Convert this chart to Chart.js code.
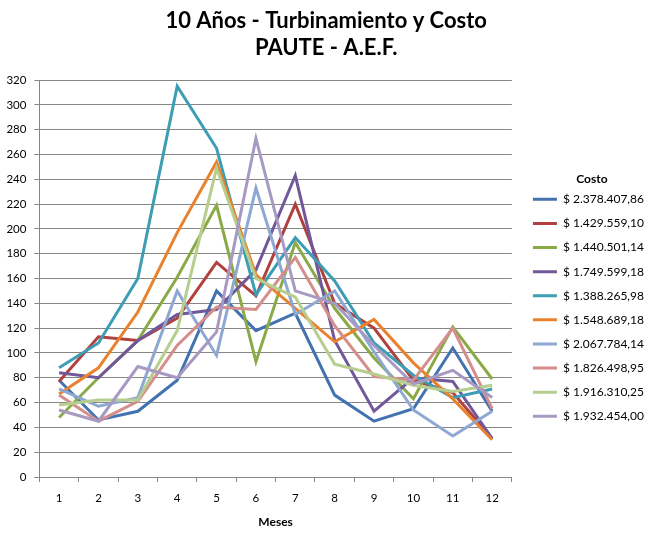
<!DOCTYPE html>
<html>
<head>
<meta charset="utf-8">
<script src="https://cdn.jsdelivr.net/npm/chart.js@4/dist/chart.umd.min.js"></script>
<style>
  html, body { margin: 0; padding: 0; background: #ffffff; }
  canvas { display: block; }
</style>
</head>
<body>
<canvas id="c" width="655" height="538"></canvas>
<script>
const months = ['1','2','3','4','5','6','7','8','9','10','11','12'];
const costLabels = ['$ 2.378.407,86','$ 1.429.559,10','$ 1.440.501,14','$ 1.749.599,18','$ 1.388.265,98','$ 1.548.689,18','$ 2.067.784,14','$ 1.826.498,95','$ 1.916.310,25','$ 1.932.454,00'];
const yTicks = [0,20,40,60,80,100,120,140,160,180,200,220,240,260,280,300,320];

const s1  = [78, 46, 53, 78, 150, 118, 132, 66, 45, 55, 104, 53];
const s2  = [77, 113, 110, 128, 173, 146, 220, 140, 120, 78, 68, 31];
const s3  = [48, 80, 110, 161, 219, 93, 189, 136, 96, 63, 121, 79];
const s4  = [84, 80, 110, 131, 135, 167, 243, 110, 53, 80, 77, 31];
const s5  = [88, 108, 160, 315, 265, 147, 193, 158, 108, 82, 64, 71];
const s6  = [67, 88, 133, 197, 254, 163, 136, 109, 127, 92, 63, 30];
const s7  = [71, 57, 64, 150, 98, 233, 131, 150, 101, 54, 33, 53];
const s8  = [66, 45, 61, 106, 137, 135, 177, 122, 81, 78, 120, 55];
const s9  = [58, 62, 62, 118, 249, 160, 145, 91, 83, 74, 69, 74];
const s10 = [54, 45, 89, 80, 117, 273, 150, 140, 106, 75, 86, 64];

const seriesValues = [s1,s2,s3,s4,s5,s6,s7,s8,s9,s10];
const colors = ['#4372B0','#B0413E','#8AAA48','#71589A','#3C9DB5','#E9822F','#8EA8D4','#D48E8C','#B7CE8E','#A899C3'];

const FONT = 'Lato, "Open Sans", "Liberation Sans", sans-serif';
const GRID = '#868686';
const LEGEND_GAP = 9;

const datasets = seriesValues.map((vals, i) => ({
  label: costLabels[i],
  data: vals,
  borderColor: colors[i],
  backgroundColor: colors[i],
  borderWidth: 3,
  pointRadius: 0,
  pointHoverRadius: 0,
  tension: 0,
  fill: false,
  order: -i
}));

// reserves a small gap between the plot area and the legend
const legendGap = {
  id: 'legendGap',
  afterInit(chart) {
    const lg = chart.legend;
    if (!lg) return;
    const fit0 = lg.fit;
    lg.fit = function () { fit0.call(this); this.width += LEGEND_GAP; };
    const draw0 = lg.draw;
    lg.draw = function () { this.left += LEGEND_GAP; draw0.call(this); this.left -= LEGEND_GAP; };
  }
};

new Chart(document.getElementById('c'), {
  type: 'line',
  data: { labels: months, datasets },
  plugins: [legendGap],
  options: {
    responsive: false,
    animation: false,
    events: [],
    layout: { padding: { left: -1.6, right: 1, top: 0, bottom: 8.8 } },
    plugins: {
      tooltip: { enabled: false },
      title: {
        display: true,
        text: ['10 Años - Turbinamiento y Costo', 'PAUTE - A.E.F.'],
        color: '#000',
        font: { family: FONT, size: 22, weight: 'bold', lineHeight: 1.23 },
        padding: { top: 7, bottom: 18.9 }
      },
      legend: {
        position: 'right',
        title: {
          display: true,
          text: 'Costo',
          color: '#000',
          font: { family: FONT, size: 12, weight: 'bold' },
          padding: { top: 78, bottom: -6 }
        },
        labels: {
          color: '#000',
          font: { family: FONT, size: 12 },
          usePointStyle: true,
          pointStyle: 'line',
          pointStyleWidth: 24,
          boxHeight: 12,
          padding: 12.1,
          sort: (a, b) => a.datasetIndex - b.datasetIndex
        }
      }
    },
    scales: {
      x: {
        type: 'category',
        offset: true,
        border: { display: true, color: GRID, width: 1 },
        grid: { offset: true, drawOnChartArea: false, drawTicks: true, tickLength: 5, color: GRID },
        ticks: { color: '#000', font: { family: FONT, size: 11.5 }, padding: 9.5, maxRotation: 0 },
        title: { display: true, text: 'Meses', color: '#000', font: { family: FONT, size: 12, weight: 'bold' }, padding: { top: 0, bottom: 0 } }
      },
      y: {
        min: 0,
        max: 320,
        border: { display: true, color: GRID, width: 1 },
        grid: { color: GRID, lineWidth: 1, drawTicks: true, tickLength: 5 },
        afterBuildTicks: (axis) => { axis.ticks = yTicks.map(v => ({ value: v })); },
        ticks: { color: '#000', font: { family: FONT, size: 11.5 }, padding: 8 }
      }
    }
  }
});
</script>
</body>
</html>
